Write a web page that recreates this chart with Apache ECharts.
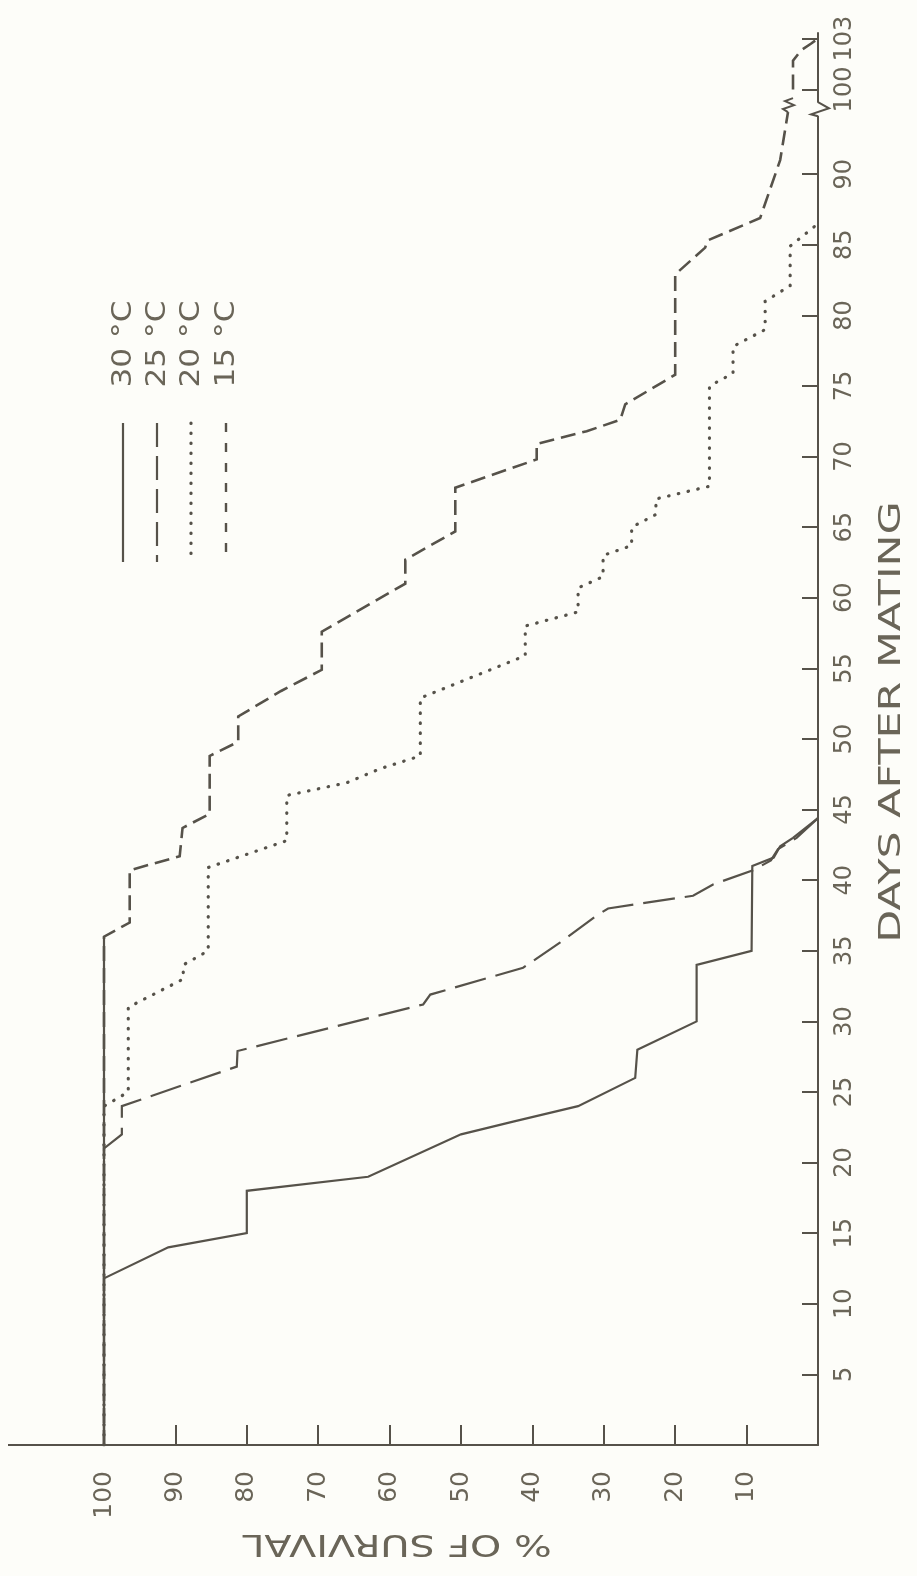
<!DOCTYPE html>
<html>
<head>
<meta charset="utf-8">
<title>Survival after mating</title>
<script src="https://cdn.jsdelivr.net/npm/echarts@6/dist/echarts.min.js"></script>
<style>
  html, body { margin: 0; padding: 0; background: #fdfdf9; }
  #chart { width: 917px; height: 1576px; }
</style>
</head>
<body>
<div id="chart"></div>
<script>
// Percentage of adults surviving, by days after mating, at four temperatures.
const temps = ['30 °C', '25 °C', '20 °C', '15 °C'];

const days30 = [0, 11.8, 14, 15, 18, 19, 22, 22.9, 24, 26, 28, 30, 34, 35, 41, 41.6, 42.4, 43, 44.4];
const surv30 = [100, 100, 91, 80, 80, 63, 50, 42.7, 33.6, 25.6, 25.3, 17, 17, 9.3, 9.2, 6.2, 5.3, 3.5, 0];

const days25 = [0, 21, 22, 24, 26.8, 27.9, 31.2, 31.9, 33.8, 35.6, 37.5, 38, 38.9, 39.7, 40.7, 41.4, 42.2, 43, 44.4];
const surv25 = [100, 100, 97.5, 97.5, 81.4, 81.3, 55.3, 54.3, 41.3, 36.1, 31, 29.4, 17.5, 14.7, 9.1, 6.6, 5.6, 3, 0];

const days20 = [0, 24, 25, 31, 33, 34, 35, 40.9, 42.8, 46, 46.9, 47.9, 48.8, 52.9, 55.9, 58, 59, 60.7, 61.5, 63,
                63.7, 65, 65.9, 67, 67.9, 75, 75.9, 77.8, 79, 81, 82.1, 84.9, 86.5];
const surv20 = [100, 100, 96.6, 96.6, 88.9, 88.9, 85.4, 85.4, 74.4, 74.4, 66, 61.3, 55.7, 55.7, 41, 41, 33.6, 33.6, 30.1, 30.1,
                26.1, 26.1, 22.7, 22.7, 15.2, 15.2, 11.9, 11.9, 7.4, 7.4, 3.9, 3.9, 0];

const days15 = [0, 36, 37, 40.7, 41.7, 43.7, 44.7, 48.8, 49.8, 51.6, 53.4, 54.9, 57.6, 61, 62.7, 64.7, 67.8, 69.8, 70.9,
                71.8, 72.6, 73.7, 75.8, 82.9, 84.8, 85.3, 86.9, 91, 94.4, 100, 101.7, 102.3, 102.7, 103];
const surv15 = [100, 100, 96.4, 96.4, 89.4, 89, 85.2, 85.2, 81.2, 81.2, 75.2, 69.5, 69.5, 57.8, 57.8, 50.8, 50.8, 39.4, 39.4,
                32.4, 27.7, 27, 20, 20, 15.8, 15.5, 8.1, 5.3, 4.2, 3.5, 3.5, 2.4, 1, 0];

const dayTicks = [5, 10, 15, 20, 25, 30, 35, 40, 45, 50, 55, 60, 65, 70, 75, 80, 85, 90, 100, 103];
const survTicks = [10, 20, 30, 40, 50, 60, 70, 80, 90];
const survLabels = [10, 20, 30, 40, 50, 60, 70, 80, 90, 100];

const INK = '#56524a';
const TEXT = '#6a6558';
const FONT = "'DejaVu Sans', 'Liberation Sans', sans-serif";

// The day axis is broken between 95 and 100: that stretch is squeezed
// into one unit, and the last few days run on a slightly wider step.
const BREAK_LO = 95, BREAK_HI = 100;
function dayPos(d) {
  if (d <= BREAK_LO) return d;
  if (d < BREAK_HI) return BREAK_LO + (d - BREAK_LO) * 0.2;
  return 96 + (d - BREAK_HI) * 1.2;
}

function toLine(days, surv) {
  const out = [];
  for (let i = 0; i < days.length; i++) {
    if (i > 0 && days[i - 1] < BREAK_LO && days[i] >= BREAK_HI) out.push(['-', '-']);
    out.push([surv[i], dayPos(days[i])]);
  }
  return out;
}

// every curve starts on a common 100 % stretch; draw that stretch as one solid stroke
function lastFullDay(days, surv) {
  let d = 0;
  for (let i = 0; i < days.length; i++) if (surv[i] >= 100) d = days[i];
  return d;
}
const plateauEnd = Math.max(
  lastFullDay(days30, surv30), lastFullDay(days25, surv25),
  lastFullDay(days20, surv20), lastFullDay(days15, surv15));

const dayLabelAt = new Map(dayTicks.map(d => [dayPos(d).toFixed(3), String(d)]));

const chart = echarts.init(document.getElementById('chart'), null, { renderer: 'canvas' });

const baseLine = { color: INK, width: 2.2, cap: 'butt', join: 'miter' };

chart.setOption({
  animation: false,
  backgroundColor: '#fdfdf9',
  grid: { left: 104, right: 99, top: 33, bottom: 131, containLabel: false },
  xAxis: {
    type: 'value', min: 0, max: 100, inverse: true, position: 'bottom',
    splitLine: { show: false },
    axisLine: { show: true, lineStyle: { color: INK, width: 2 } },
    axisTick: { show: true, inside: true, length: 20, customValues: survTicks, lineStyle: { color: INK, width: 2 } },
    axisLabel: {
      customValues: survLabels, rotate: 90, margin: 26,
      color: TEXT, fontSize: 25, fontFamily: FONT
    }
  },
  yAxis: {
    type: 'value', min: 0, max: 100, position: 'right',
    splitLine: { show: false },
    axisLine: { show: true, lineStyle: { color: INK, width: 2 } },
    axisTick: { show: true, inside: true, length: 16, customValues: dayTicks.map(dayPos), lineStyle: { color: INK, width: 2 } },
    axisLabel: {
      customValues: dayTicks.map(dayPos), rotate: 90, margin: 15,
      color: TEXT, fontSize: 24, fontFamily: FONT,
      formatter: v => dayLabelAt.get(Number(v).toFixed(3)) || ''
    }
  },
  series: [
    {
      name: 'common', type: 'line', showSymbol: false, silent: true,
      data: [[100, 0], [100, dayPos(plateauEnd)]],
      lineStyle: { ...baseLine }
    },
    {
      name: temps[0], type: 'line', showSymbol: false, silent: true,
      data: toLine(days30, surv30),
      lineStyle: { ...baseLine, type: 'solid' }
    },
    {
      name: temps[1], type: 'line', showSymbol: false, silent: true,
      data: toLine(days25, surv25),
      lineStyle: { ...baseLine, type: [32, 10] }
    },
    {
      name: temps[2], type: 'line', showSymbol: false, silent: true,
      data: toLine(days20, surv20),
      lineStyle: { ...baseLine, width: 3.2, cap: 'round', type: [0.5, 9.5] }
    },
    {
      name: temps[3], type: 'line', showSymbol: false, silent: true,
      data: toLine(days15, surv15),
      lineStyle: { ...baseLine, width: 2.6, type: [15, 7] }
    }
  ]
});

// Decorations placed through the chart's own coordinate system.
function px(surv, pos) { return chart.convertToPixel({ gridIndex: 0 }, [surv, pos]); }

const origin = px(100, 0);
const corner = px(0, 0);
const axisX = corner[0];
const brLo = px(0, 94.1)[1];
const brHi = px(0, 95.1)[1];

// break on the day axis
const axisBreak = [
  { type: 'rect', shape: { x: axisX - 3, y: brHi + 0.5, width: 6, height: brLo - brHi - 1 }, style: { fill: '#fdfdf9' }, z: 50 },
  {
    type: 'polyline', z: 51,
    shape: { points: [[axisX, brLo], [axisX - 7, brLo - 2], [axisX + 11, brLo - 8], [axisX, brHi]] },
    style: { stroke: INK, lineWidth: 2, fill: null }
  }
];

// break on the 15 °C curve
let pre = null;
for (let i = 0; i < days15.length; i++) if (days15[i] < BREAK_LO) pre = px(surv15[i], dayPos(days15[i]));
const curveBreak = {
  type: 'polyline', z: 51,
  shape: { points: [pre, [pre[0] - 5, pre[1] - 3], [pre[0] + 6, pre[1] - 7], [pre[0] - 3, pre[1] - 11], [pre[0] + 5, pre[1] - 14]] },
  style: { stroke: INK, lineWidth: 2, fill: null }
};

// survival axis runs on past the 100 % mark
const axisRun = {
  type: 'line', z: 40,
  shape: { x1: 8, y1: origin[1], x2: origin[0], y2: origin[1] },
  style: { stroke: INK, lineWidth: 2 }
};

// legend: line samples below rotated labels
const legendX = [124, 158, 192, 227];
const legendDash = [null, [24, 9], [0.5, 9.5], [9, 11]];
const legendWidth = [2.2, 2.2, 3.2, 2.4];
const legend = [];
temps.forEach((t, i) => {
  legend.push({
    type: 'text', x: legendX[i], y: 344, rotation: Math.PI / 2, scaleX: 1.2, z: 60,
    style: { text: t, fill: TEXT, fontSize: 26, fontFamily: FONT, align: 'center', verticalAlign: 'middle' }
  });
  legend.push({
    type: 'line', z: 60,
    shape: { x1: legendX[i] - 1, y1: 423, x2: legendX[i] - 1, y2: 562 },
    style: { stroke: INK, lineWidth: legendWidth[i], lineDash: legendDash[i], lineCap: i === 2 ? 'round' : 'butt' }
  });
});

const titles = [
  {
    type: 'text', x: 892, y: 722, rotation: Math.PI / 2, scaleX: 1.38, z: 60,
    style: { text: 'DAYS AFTER MATING', fill: TEXT, fontSize: 31, fontFamily: FONT, align: 'center', verticalAlign: 'middle' }
  },
  {
    type: 'text', x: 397, y: 1543, rotation: Math.PI, scaleX: 1.28, z: 60,
    style: { text: '% OF SURVIVAL', fill: TEXT, fontSize: 31, fontFamily: FONT, align: 'center', verticalAlign: 'middle' }
  }
];

chart.setOption({ graphic: [...axisBreak, curveBreak, axisRun, ...legend, ...titles] });
</script>
</body>
</html>
